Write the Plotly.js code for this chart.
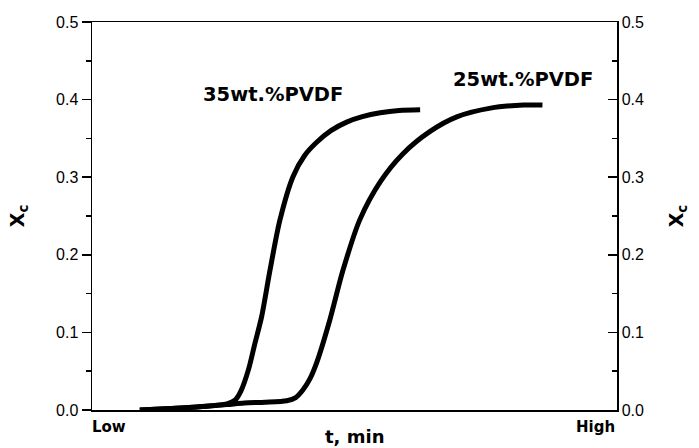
<!DOCTYPE html>
<html>
<head>
<meta charset="utf-8">
<script src="https://cdn.plot.ly/plotly-3.0.1.min.js"></script>
<style>html,body{margin:0;padding:0;background:#fff;}#chart{width:699px;height:448px;}</style>
</head>
<body>
<div id="chart"></div>
<script>
// time axis is qualitative (Low -> High), arbitrary units 0..100
const t35 = [9.1, 15, 20, 25.7, 27.3, 28.4, 29.8, 31.0, 32.3, 33.9, 35.8, 38.3, 40.5, 42.8, 45.5, 48.5, 51.5, 54.9, 58.5, 62.5];
const xc35 = [0.000, 0.002, 0.004, 0.008, 0.013, 0.025, 0.052, 0.085, 0.120, 0.180, 0.245, 0.301, 0.328, 0.345, 0.360, 0.371, 0.378, 0.383, 0.386, 0.387];

const t25 = [9.1, 15, 20, 25.7, 29.0, 33.0, 37.1, 38.8, 40.2, 41.5, 42.8, 45.3, 47.8, 51.0, 54.9, 59.2, 64.4, 69.6, 75.9, 82.2, 85.8];
const xc25 = [0.000, 0.002, 0.004, 0.007, 0.009, 0.010, 0.012, 0.016, 0.026, 0.040, 0.061, 0.116, 0.180, 0.245, 0.294, 0.330, 0.359, 0.378, 0.389, 0.393, 0.393];

const seriesNames = ["35wt.%PVDF", "25wt.%PVDF"];
const labelPos = {x: [34.4, 82.0], y: [0.407, 0.426]};
const yTicks = [0.0, 0.1, 0.2, 0.3, 0.4, 0.5];

const FONT = "Liberation Sans, Arial, sans-serif";
const BFONT = "DejaVu Sans, Liberation Sans, sans-serif";

const lineStyle = {color: "#000", width: 5, shape: "spline", smoothing: 0.8};

const traces = [
  {x: t35, y: xc35, type: "scatter", mode: "lines", name: seriesNames[0], line: lineStyle, showlegend: false, hoverinfo: "skip"},
  {x: t25, y: xc25, type: "scatter", mode: "lines", name: seriesNames[1], line: lineStyle, showlegend: false, hoverinfo: "skip"},
  {x: [null], y: [null], yaxis: "y2", type: "scatter", showlegend: false, hoverinfo: "skip"}
];

const yCommon = {
  range: [0, 0.5],
  tickvals: yTicks,
  ticktext: yTicks.map(v => v.toFixed(1)),
  ticklen: 9,
  tickwidth: 1.5,
  tickcolor: "#000",
  showline: true,
  linecolor: "#000",
  linewidth: 1.5,
  showgrid: false,
  zeroline: false,
  tickfont: {family: FONT, size: 16, color: "#000"},
  title: {text: "<b>X<sub>c</sub></b>", font: {family: BFONT, size: 19, color: "#000"}, standoff: 26},
  fixedrange: true
};

const layout = {
  width: 699,
  height: 448,
  margin: {l: 92, r: 82, t: 22, b: 38},
  paper_bgcolor: "#fff",
  plot_bgcolor: "#fff",
  showlegend: false,
  xaxis: {
    range: [0, 100],
    showline: true,
    linecolor: "#000",
    linewidth: 1.5,
    mirror: true,
    ticks: "",
    showticklabels: false,
    showgrid: false,
    zeroline: false,
    fixedrange: true
  },
  yaxis: Object.assign({}, yCommon, {
    side: "left",
    ticks: "outside",
    minor: {ticks: "outside", ticklen: 5, tickwidth: 1.5, tickcolor: "#000", dtick: 0.05, tick0: 0, showgrid: false}
  }),
  yaxis2: Object.assign({}, yCommon, {
    side: "right",
    overlaying: "y",
    anchor: "x",
    ticks: "inside",
    minor: {ticks: "inside", ticklen: 5, tickwidth: 1.5, tickcolor: "#000", dtick: 0.05, tick0: 0, showgrid: false}
  }),
  annotations: [
    {x: labelPos.x[0], y: labelPos.y[0], xref: "x", yref: "y", text: "<b>" + seriesNames[0] + "</b>", showarrow: false, font: {family: BFONT, size: 19.5, color: "#000"}},
    {x: labelPos.x[1], y: labelPos.y[1], xref: "x", yref: "y", text: "<b>" + seriesNames[1] + "</b>", showarrow: false, font: {family: BFONT, size: 19.5, color: "#000"}},
    {x: 0, y: -0.043, xref: "paper", yref: "paper", xanchor: "left", yanchor: "middle", xshift: -2, text: "<b>Low</b>", showarrow: false, font: {family: BFONT, size: 15, color: "#000"}},
    {x: 1, y: -0.043, xref: "paper", yref: "paper", xanchor: "right", yanchor: "middle", text: "<b>High</b>", showarrow: false, font: {family: BFONT, size: 15, color: "#000"}},
    {x: 0.5, y: -0.068, xref: "paper", yref: "paper", xanchor: "center", yanchor: "middle", text: "<b>t, min</b>", showarrow: false, font: {family: BFONT, size: 18, color: "#000"}}
  ]
};

Plotly.newPlot("chart", traces, layout, {staticPlot: true, displayModeBar: false});
</script>
</body>
</html>
